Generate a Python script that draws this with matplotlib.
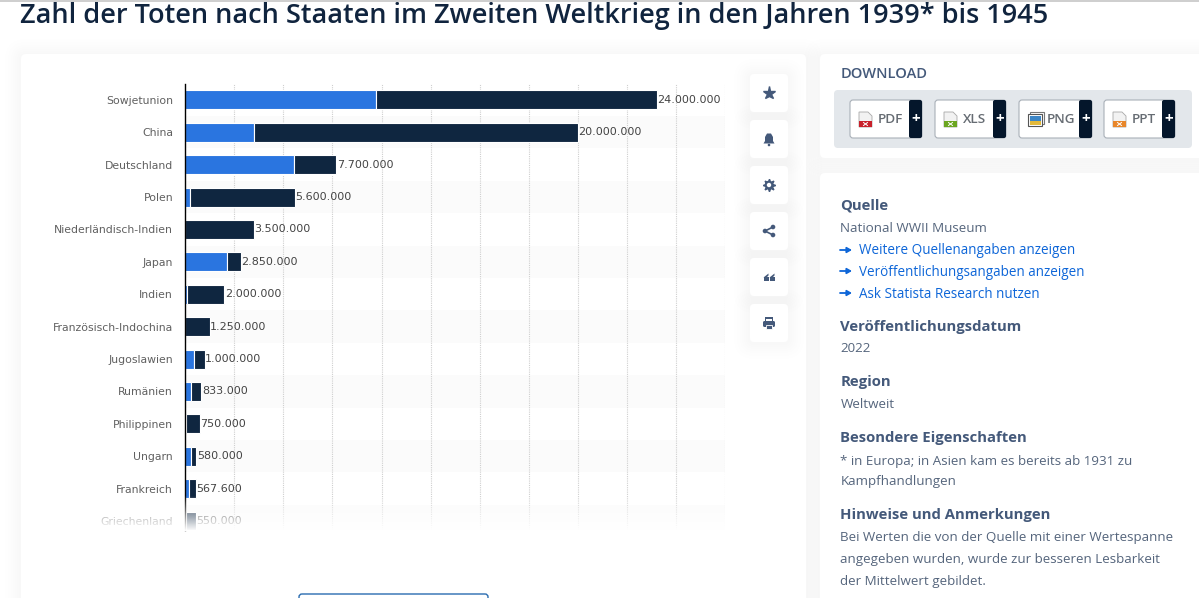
import numpy as np
import matplotlib
matplotlib.use("Agg")
import matplotlib.pyplot as plt
from matplotlib.patches import FancyBboxPatch, Rectangle, Circle, Polygon

# Daten
countries = ["Sowjetunion", "China", "Deutschland", "Polen", "Niederländisch-Indien", "Japan",
             "Indien", "Französisch-Indochina", "Jugoslawien", "Rumänien", "Philippinen",
             "Ungarn", "Frankreich", "Griechenland"]
total = [24000000, 20000000, 7700000, 5600000, 3500000, 2850000, 2000000,
         1250000, 1000000, 833000, 750000, 580000, 567600, 550000]
military = [9700000, 3500000, 5530000, 240000, 0, 2130000, 87000,
            0, 446000, 300000, 57000, 300000, 212000, 35000]
x_ticks = [2500000 * i for i in range(1, 12)]

# Text der rechten Spalte
side_head = [("Quelle", 206), ("Veröffentlichungsdatum", 327), ("Region", 382),
             ("Besondere Eigenschaften", 438), ("Hinweise und Anmerkungen", 515)]
side_body = [("National WWII Museum", 229), ("2022", 349), ("Weltweit", 405),
             ("* in Europa; in Asien kam es bereits ab 1931 zu", 461), ("Kampfhandlungen", 482),
             ("Bei Werten die von der Quelle mit einer Wertespanne", 538),
             ("angegeben wurden, wurde zur besseren Lesbarkeit", 559),
             ("der Mittelwert gebildet.", 581)]
side_links = [("Weitere Quellenangaben anzeigen", 251), ("Veröffentlichungsangaben anzeigen", 272),
              ("Ask Statista Research nutzen", 294)]
downloads = [("PDF", 850, 922, 909, "#c8202a"), ("XLS", 935, 1006, 993, "#6aa51f"),
             ("PNG", 1019, 1092, 1079, "#3d86c6"), ("PPT", 1104, 1175, 1162, "#e8862a")]

W, H = 1199, 598
BLUE = "#2a75e0"
DARK = "#0f2640"
HEAD = "#44597a"
BODY = "#55657c"
LINK = "#0e66d8"
ICON = "#44597a"
UI_FONT = "Open Sans"


def card(ax, x0, y0, x1, y1, color="white", radius=4, zorder=1, shadow=True, edge="none"):
    if shadow:
        for grow in (16, 13, 10, 8, 6, 4, 2):
            ax.add_patch(FancyBboxPatch((x0 - grow, y0 - grow + 1), x1 - x0 + 2 * grow, y1 - y0 + 2 * grow,
                                        boxstyle=f"round,pad=0,rounding_size={radius + grow}",
                                        fc="#3a4a80", ec="none", alpha=0.0055, zorder=zorder))
    ax.add_patch(FancyBboxPatch((x0, y0), x1 - x0, y1 - y0, boxstyle=f"round,pad=0,rounding_size={radius}",
                                fc=color, ec=edge, lw=0.8, zorder=zorder + 0.1))


def draw_icons(ax):
    z = 3
    # Stern
    ax.plot(769, 93, marker="*", ms=9.5, color=ICON, mec=ICON, zorder=z)
    # Glocke
    ax.add_patch(Polygon([(763.5, 143.5), (765, 141), (765, 137), (767, 133.5), (771, 133.5),
                          (773, 137), (773, 141), (774.5, 143.5)], fc=ICON, ec="none", zorder=z))
    ax.add_patch(Circle((769, 145), 1.3, fc=ICON, ec="none", zorder=z))
    # Zahnrad
    ax.plot(769, 185, marker=(8, 1, 0), ms=9, color=ICON, mec=ICON, zorder=z)
    ax.add_patch(Circle((769, 185), 4.3, fc=ICON, ec="none", zorder=z))
    ax.add_patch(Circle((769, 185), 2.2, fc="white", ec="none", zorder=z + 0.1))
    # Teilen
    ax.plot([773, 765, 773], [227, 231, 235], color=ICON, lw=1.2, zorder=z)
    for cx, cy in [(765, 231), (773, 227), (773, 235)]:
        ax.add_patch(Circle((cx, cy), 2.3, fc=ICON, ec="none", zorder=z))
    # Zitat
    for cx in (766, 772):
        ax.add_patch(Rectangle((cx - 2.5, 277), 5, 4, fc=ICON, ec="none", zorder=z))
        ax.add_patch(Polygon([(cx - 2.5, 277.5), (cx + 2.5, 273.5), (cx + 2.5, 275.5), (cx, 278)],
                             fc=ICON, ec="none", zorder=z))
    # Drucker
    ax.add_patch(Rectangle((765, 317), 8, 4, fc=ICON, ec="none", zorder=z))
    ax.add_patch(FancyBboxPatch((763, 321), 12, 6, boxstyle="round,pad=0,rounding_size=1.5",
                                fc=ICON, ec="none", zorder=z))
    ax.add_patch(Rectangle((766, 325), 6, 4, fc=ICON, ec="white", lw=0.6, zorder=z + 0.1))
    ax.add_patch(Rectangle((766.3, 318.5), 5.4, 2, fc="white", ec="none", zorder=z + 0.1))


def draw_file_icon(ax, x, color, png=False):
    z = 4
    if png:
        ax.add_patch(Rectangle((x + 2, 112), 14, 12, fc="white", ec="#777777", lw=0.8, zorder=z))
        ax.add_patch(Rectangle((x, 114), 14, 12, fc="white", ec="#555555", lw=0.8, zorder=z + 0.1))
        ax.add_patch(Rectangle((x + 1.5, 115.5), 11, 5, fc=color, ec="none", zorder=z + 0.2))
        ax.add_patch(Rectangle((x + 1.5, 120.5), 11, 4, fc="#e3b93a", ec="none", zorder=z + 0.2))
        return
    ax.add_patch(Polygon([(x, 112), (x + 9, 112), (x + 13, 116), (x + 13, 127), (x, 127)],
                         fc="#f2f2f2", ec="#a8a8a8", lw=0.6, zorder=z))
    ax.add_patch(Rectangle((x, 121), 13, 6, fc=color, ec="none", zorder=z + 0.1))
    ax.plot([x + 4.5, x + 8.5], [122.5, 125.5], color="white", lw=0.7, zorder=z + 0.2)
    ax.plot([x + 8.5, x + 4.5], [122.5, 125.5], color="white", lw=0.7, zorder=z + 0.2)


def draw_page(ax):
    ax.add_patch(Rectangle((0, 0), W, 1.5, fc="#cfcfcf", ec="none", zorder=0.5))
    card(ax, 21, 54, 806, 620, radius=5)
    card(ax, 820, 54, 1215, 158, radius=5)
    card(ax, 820, 173, 1215, 620, radius=5)

    ax.text(20, 23, "Zahl der Toten nach Staaten im Zweiten Weltkrieg in den Jahren 1939* bis 1945",
            fontsize=19.52, fontweight=600, family=UI_FONT, color="#10243e", va="baseline", ha="left", zorder=5)

    for y0 in (74, 120, 166, 212, 258, 304):
        card(ax, 750, y0, 788, y0 + 38, radius=4, zorder=2)
    draw_icons(ax)

    # Download-Bereich
    ax.text(841, 74.5, "DOWNLOAD", fontsize=10.5, fontweight=600, family=UI_FONT, color=HEAD, va="center", zorder=5)
    card(ax, 834, 90, 1192, 148, color="#e3e7eb", radius=4, zorder=2, shadow=False)
    for name, x0, x1, xd, col in downloads:
        card(ax, x0, 100, x1, 138, radius=3, zorder=3, shadow=False, edge="#a9b0b8")
        ax.add_patch(FancyBboxPatch((xd, 100), x1 - xd, 38, boxstyle="round,pad=0,rounding_size=2",
                                    fc="#04162b", ec="none", zorder=3.5))
        ax.text((xd + x1) / 2, 119, "+", fontsize=11, fontweight="bold", family=UI_FONT, color="white",
                ha="center", va="center", zorder=5)
        ax.text(x0 + 28, 119.5, name, fontsize=9.7, fontweight=600, family=UI_FONT,
                color="#666c73", va="center", zorder=5)
        draw_file_icon(ax, x0 + 9, col, png=name == "PNG")

    # Quellenspalte
    for txt, y in side_head:
        ax.text(840.5, y, txt, fontsize=10.7, fontweight="bold", family=UI_FONT, color=HEAD, va="center", zorder=5)
    for txt, y in side_body:
        ax.text(840.5, y, txt, fontsize=9.67, family=UI_FONT, color=BODY, va="center", zorder=5)
    for txt, y in side_links:
        ax.text(859, y, txt, fontsize=9.72, family=UI_FONT, color=LINK, va="center", zorder=5)
        ax.annotate("", xy=(852, y - 1), xytext=(840, y - 1), zorder=5,
                    arrowprops=dict(arrowstyle="-|>,head_width=0.16,head_length=0.28", color=LINK, lw=1.3,
                                    shrinkA=0, shrinkB=0))

    # Knopf unten
    ax.add_patch(FancyBboxPatch((299, 594), 189, 20, boxstyle="round,pad=0,rounding_size=3",
                                fc="white", ec="#2a6cb0", lw=1.0, zorder=5))


def draw_chart(fig):
    x0, x1, y0, y1 = 185.0, 725.5, 84.0, 530.0
    ax = fig.add_axes([x0 / W, 1 - y1 / H, (x1 - x0) / W, (y1 - y0) / H], zorder=2)
    ax.patch.set_alpha(0)
    row = 32.4
    y = np.arange(len(countries))
    ax.set_xlim(0, 27500000)
    ax.set_ylim((y1 - 99.8) / row, (y0 - 99.8) / row)

    for i in y[1::2]:
        ax.axhspan(i - 0.5, i + 0.5, color="#fbfbfb", lw=0, zorder=0)

    ax.set_xticks(x_ticks)
    ax.set_xticklabels([])
    ax.tick_params(axis="x", length=0)
    ax.grid(axis="x", color="#cfcfcf", linestyle=(0, (1, 1)), linewidth=0.8)
    ax.set_axisbelow(True)

    dead_rest = np.array(total) - np.array(military)
    bar_h = 19 / row
    ax.barh(y, military, height=bar_h, color=BLUE, edgecolor="white", linewidth=0.8, zorder=1)
    ax.barh(y, dead_rest, left=military, height=bar_h, color=DARK, edgecolor="white", linewidth=0.8, zorder=1)

    ax.set_yticks(y)
    ax.set_yticklabels(countries, fontsize=7.85, color="#606060")
    ax.tick_params(axis="y", length=0, pad=8.6)

    for i, v in enumerate(total):
        ax.annotate(f"{v:,}".replace(",", "."), (v, i), xytext=(0.3, 0), textcoords="offset points",
                    va="center", ha="left", fontsize=8.0, color="#444444")

    for s in ("top", "right", "bottom"):
        ax.spines[s].set_visible(False)
    ax.spines["left"].set_color("black")
    ax.spines["left"].set_linewidth(1.0)


def draw_fade(fig):
    # weisser Verlauf ueber dem unteren Diagrammrand
    x0, x1, y0, y1 = 30, 745, 495, 531
    ax = fig.add_axes([x0 / W, 1 - y1 / H, (x1 - x0) / W, (y1 - y0) / H], zorder=3)
    ax.axis("off")
    grad = np.ones((64, 2, 4))
    grad[:, :, 3] = np.linspace(0, 1, 64)[:, None]
    ax.imshow(grad, aspect="auto", interpolation="bilinear")


fig = plt.figure(figsize=(W / 100, H / 100), dpi=100, facecolor="white")
page = fig.add_axes([0, 0, 1, 1], zorder=1)
page.set_xlim(0, W)
page.set_ylim(H, 0)
page.axis("off")

draw_page(page)
draw_chart(fig)
draw_fade(fig)

fig.savefig("out.png", dpi=100, facecolor=fig.get_facecolor())
